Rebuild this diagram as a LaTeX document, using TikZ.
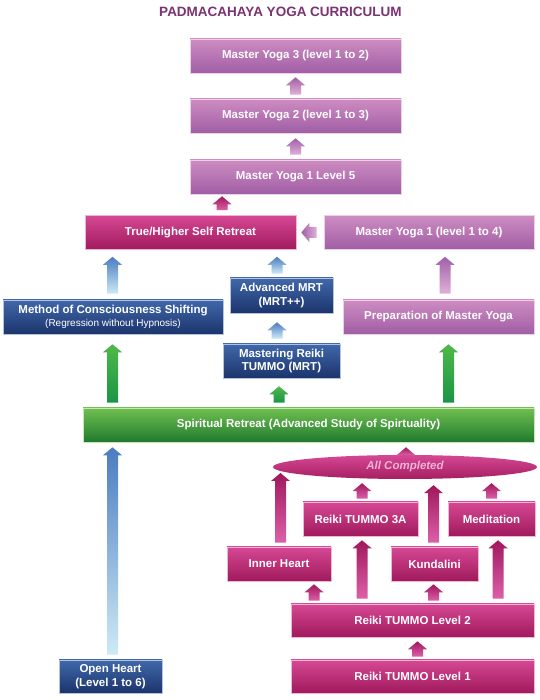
\documentclass[tikz,border=0pt]{standalone}
\usepackage{fontspec}
\setmainfont{Liberation Sans}
\usetikzlibrary{calc,shapes.geometric}
\definecolor{titlecol}{HTML}{7D3273}
\definecolor{purtop}{HTML}{CE8CC2}
\definecolor{purbot}{HTML}{A05EA5}
\definecolor{magtop}{HTML}{D64894}
\definecolor{magbot}{HTML}{A01A5C}
\definecolor{navtop}{HTML}{4068AA}
\definecolor{navbot}{HTML}{1C346C}
\definecolor{grntop}{HTML}{70C050}
\definecolor{grnbot}{HTML}{207A2E}
\definecolor{bluartop}{HTML}{4A7CC0}
\definecolor{bluarbot}{HTML}{CEEAF6}
\definecolor{grnartop}{HTML}{50B848}
\definecolor{grnarbot}{HTML}{189646}
\definecolor{purartop}{HTML}{A060A8}
\definecolor{purarbot}{HTML}{E0B0D8}
\definecolor{magartop}{HTML}{A0185C}
\definecolor{magarbot}{HTML}{DC60AA}
\definecolor{elltext}{HTML}{F0B4DA}
\tikzset{
  box/.style={rectangle,inner sep=0pt,minimum height=34pt,text=white,line width=0.6pt,
    align=center,font=\bfseries\fontsize{11.5}{13.5}\selectfont},
  pbox/.style={box,top color=purtop,bottom color=purbot,draw=purtop!40!white},
  mbox/.style={box,top color=magtop,bottom color=magbot,draw=magtop!40!white},
  nbox/.style={box,top color=navtop,bottom color=navbot,draw=navtop!40!white},
  gbox/.style={box,top color=grntop,bottom color=grnbot,draw=grntop!40!white},
  bluar/.style={top color=bluartop,bottom color=bluarbot},
  grnar/.style={top color=grnartop,bottom color=grnarbot},
  purar/.style={top color=purartop,bottom color=purarbot},
  magar/.style={top color=magartop,bottom color=magarbot}
}
\newcommand{\upar}[6]{%
  \shade[#1] let \p1=(#3), \p2=(#5) in
    (#2-5.5,\y1+#4pt) -- (#2-5.5,\y2-#6pt-8pt) -- (#2-9.5,\y2-#6pt-8pt) -- (#2,\y2-#6pt)
    -- (#2+9.5,\y2-#6pt-8pt) -- (#2+5.5,\y2-#6pt-8pt) -- (#2+5.5,\y1+#4pt) -- cycle;}
\begin{document}
\begin{tikzpicture}[x=1pt,y=1pt]
  \fill[white] (0,0) rectangle (539,700);
  \useasboundingbox (0,0) rectangle (539,700);
  \node[text=titlecol,font=\bfseries\fontsize{13.5}{15}\selectfont] (title) at (280.5,688) {PADMACAHAYA YOGA CURRICULUM};
  \node[pbox,minimum width=211pt] (my3) at (295.5,644) {Master Yoga 3 (level 1 to 2)};
  \node[pbox,minimum width=211pt] (my2) at (295.5,584) {Master Yoga 2 (level 1 to 3)};
  \node[pbox,minimum width=211pt] (my1five) at (295.5,523) {Master Yoga 1 Level 5};
  \node[mbox,minimum width=211pt] (thsr) at (190.5,467.5) {True/Higher Self Retreat};
  \node[pbox,minimum width=210pt] (myone) at (429,467.5) {Master Yoga 1 (level 1 to 4)};
  \node[nbox,minimum width=220pt] (mocs) at (113,383) {Method of Consciousness Shifting\\[-1pt]{\mdseries\fontsize{10}{11}\selectfont (Regression without Hypnosis)}};
  \node[nbox,minimum width=103pt,minimum height=35pt] (amrt) at (281.5,404.5) {Advanced MRT\\(MRT++)};
  \node[pbox,minimum width=191pt] (prep) at (438.5,383) {Preparation of Master Yoga};
  \node[nbox,minimum width=117pt] (mrt) at (281.5,339) {Mastering Reiki\\TUMMO (MRT)};
  \node[gbox,minimum width=451pt] (spirit) at (308.5,275) {Spiritual Retreat (Advanced Study of Spirtuality)};
  \node[ellipse,inner sep=0pt,minimum width=264pt,minimum height=24pt,top color=magtop,bottom color=magbot!90!magtop,
    text=elltext,font=\bfseries\itshape\fontsize{11.5}{13.5}\selectfont] (ell) at (405,233) {All Completed};
  \node[mbox,minimum width=115pt] (r3a) at (360.5,181) {Reiki TUMMO 3A};
  \node[mbox,minimum width=87pt] (medi) at (491.5,181) {Meditation};
  \node[mbox,minimum width=104pt] (inner) at (279,136) {Inner Heart};
  \node[mbox,minimum width=87pt] (kund) at (434.5,136) {Kundalini};
  \node[mbox,minimum width=243pt,minimum height=33pt] (lvl2) at (412.5,79.5) {Reiki TUMMO Level 2};
  \node[mbox,minimum width=243pt,minimum height=33pt] (lvl1) at (412.5,23.5) {Reiki TUMMO Level 1};
  \node[nbox,minimum width=103pt,minimum height=33pt] (ohrt) at (110.5,23.5) {Open Heart\\(Level 1 to 6)};
  \upar{purar}{295.5}{my2.north}{4}{my3.south}{4}
  \upar{purar}{295.5}{my1five.north}{5}{my2.south}{5}
  \upar{magar}{222}{thsr.north}{5}{my1five.south}{2}
  \shade[left color=purartop,right color=purarbot] let \p1=(myone.west), \p2=(thsr.east) in
    (\x1-7pt,\y1+5.5pt) -- (\x2+13pt,\y1+5.5pt) -- (\x2+13pt,\y1+9.5pt) -- (\x2+5pt,\y1)
    -- (\x2+13pt,\y1-9.5pt) -- (\x2+13pt,\y1-5.5pt) -- (\x1-7pt,\y1-5.5pt) -- cycle;
  \upar{bluar}{112.5}{mocs.north}{6}{thsr.south}{7}
  \upar{bluar}{277}{amrt.north}{4}{thsr.south}{7}
  \upar{purar}{445}{prep.north}{6}{myone.south}{7}
  \upar{bluar}{277}{mrt.north}{5}{amrt.south}{9}
  \upar{grnar}{112.5}{spirit.north}{5}{mocs.south}{10}
  \upar{grnar}{279}{spirit.north}{5}{mrt.south}{8}
  \upar{grnar}{448.5}{spirit.north}{5}{prep.south}{10}
  \upar{bluar}{112.5}{ohrt.north}{5}{spirit.south}{5}
  \upar{magar}{406}{ell.north}{0}{spirit.south}{5}
  \upar{magar}{280.5}{inner.north}{4}{ell.center}{6}
  \upar{magar}{362}{r3a.north}{3}{ell.south}{4}
  \upar{magar}{433.5}{kund.north}{4}{ell.south}{6}
  \upar{magar}{491.5}{medi.north}{3}{ell.south}{4}
  \upar{magar}{362}{lvl2.north}{5}{r3a.south}{4}
  \upar{magar}{498}{lvl2.north}{5}{medi.south}{4}
  \upar{magar}{314}{lvl2.north}{3}{inner.south}{3}
  \upar{magar}{433.5}{lvl2.north}{3}{kund.south}{3}
  \upar{magar}{417.5}{lvl1.north}{3}{lvl2.south}{4}
\end{tikzpicture}
\end{document}
